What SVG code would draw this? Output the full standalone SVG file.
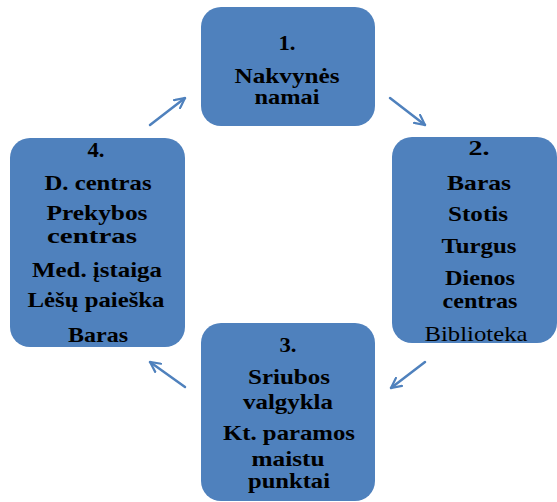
<svg xmlns="http://www.w3.org/2000/svg" width="557" height="502" viewBox="0 0 557 502">
<defs>
<style>
.box{fill:#4F81BD;}
.t{font-family:"Liberation Serif","Times New Roman",serif;font-size:22px;font-weight:bold;fill:#000;text-anchor:middle;}
.r{font-weight:normal;}
.c{fill:none;stroke:#4F81BD;stroke-width:2.5;stroke-linecap:round;}
</style>
<marker id="ah" viewBox="0 0 12 12" refX="11" refY="6" markerWidth="12" markerHeight="12" markerUnits="userSpaceOnUse" orient="auto">
<path d="M1,1 L11,6 L1,11" fill="none" stroke="#4F81BD" stroke-width="2.2" stroke-linecap="round"/>
</marker>
</defs>
<rect width="557" height="502" fill="#fff"/>
<g id="connectors">
<line class="c" x1="150" y1="125" x2="185" y2="98" marker-end="url(#ah)"/>
<line class="c" x1="390" y1="98" x2="425" y2="125" marker-end="url(#ah)"/>
<line class="c" x1="425" y1="362" x2="391" y2="388" marker-end="url(#ah)"/>
<line class="c" x1="185" y1="387" x2="150" y2="362" marker-end="url(#ah)"/>
</g>
<g id="node1">
<rect class="box" x="201" y="7" width="174" height="119" rx="20"/>
<text class="t" x="287" y="50" textLength="17" lengthAdjust="spacingAndGlyphs">1.</text>
<text class="t" x="287" y="83" textLength="105" lengthAdjust="spacingAndGlyphs">Nakvynės</text>
<text class="t" x="287" y="104" textLength="65" lengthAdjust="spacingAndGlyphs">namai</text>
</g>
<g id="node2">
<rect class="box" x="392" y="137" width="165" height="206" rx="20"/>
<text class="t" x="479" y="155" textLength="21" lengthAdjust="spacingAndGlyphs">2.</text>
<text class="t" x="479" y="190" textLength="64" lengthAdjust="spacingAndGlyphs">Baras</text>
<text class="t" x="478" y="221" textLength="60" lengthAdjust="spacingAndGlyphs">Stotis</text>
<text class="t" x="479" y="253" textLength="75" lengthAdjust="spacingAndGlyphs">Turgus</text>
<text class="t" x="480" y="285" textLength="70" lengthAdjust="spacingAndGlyphs">Dienos</text>
<text class="t" x="480" y="308" textLength="75" lengthAdjust="spacingAndGlyphs">centras</text>
<text class="t r" x="476" y="341" textLength="103" lengthAdjust="spacingAndGlyphs">Biblioteka</text>
</g>
<g id="node3">
<rect class="box" x="201" y="323" width="174" height="178" rx="20"/>
<text class="t" x="288" y="352" textLength="17" lengthAdjust="spacingAndGlyphs">3.</text>
<text class="t" x="289" y="384" textLength="82" lengthAdjust="spacingAndGlyphs">Sriubos</text>
<text class="t" x="288" y="409" textLength="90" lengthAdjust="spacingAndGlyphs">valgykla</text>
<text class="t" x="289" y="440" textLength="132" lengthAdjust="spacingAndGlyphs">Kt. paramos</text>
<text class="t" x="288" y="466" textLength="73" lengthAdjust="spacingAndGlyphs">maistu</text>
<text class="t" x="289" y="488" textLength="82" lengthAdjust="spacingAndGlyphs">punktai</text>
</g>
<g id="node4">
<rect class="box" x="10" y="138" width="175" height="209" rx="20"/>
<text class="t" x="96" y="157" textLength="17" lengthAdjust="spacingAndGlyphs">4.</text>
<text class="t" x="98" y="190" textLength="107" lengthAdjust="spacingAndGlyphs">D. centras</text>
<text class="t" x="97" y="220" textLength="101" lengthAdjust="spacingAndGlyphs">Prekybos</text>
<text class="t" x="92" y="243" textLength="90" lengthAdjust="spacingAndGlyphs">centras</text>
<text class="t" x="97" y="277" textLength="130" lengthAdjust="spacingAndGlyphs">Med. įstaiga</text>
<text class="t" x="96" y="307" textLength="137" lengthAdjust="spacingAndGlyphs">Lėšų paieška</text>
<text class="t" x="98" y="342" textLength="60" lengthAdjust="spacingAndGlyphs">Baras</text>
</g>
</svg>
